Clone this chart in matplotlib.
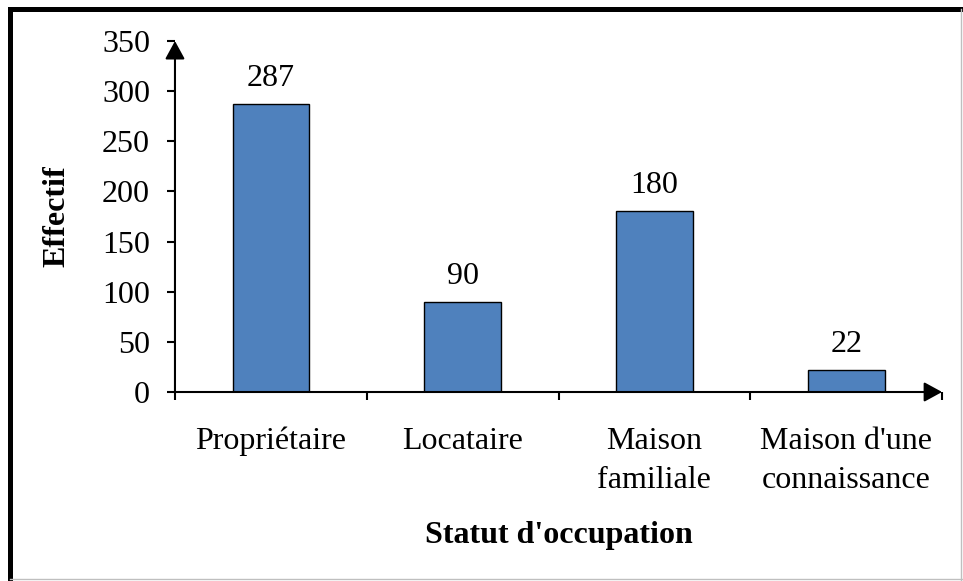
import matplotlib.pyplot as plt
from matplotlib.lines import Line2D

categories = ["Propriétaire", "Locataire", "Maison\nfamiliale", "Maison d'une\nconnaissance"]
effectifs = [287, 90, 180, 22]
y_ticks = [0, 50, 100, 150, 200, 250, 300, 350]

plt.rcParams["font.family"] = ["Liberation Serif", "DejaVu Serif"]
fs = 23

fig = plt.figure(figsize=(9.63, 5.81), dpi=100)
ax = fig.add_axes([0.1817, 0.3253, 0.7966, 0.6041])

x = range(len(categories))
bars = ax.bar(x, effectifs, width=0.4, color="#4F81BD", edgecolor="black", linewidth=1)
for b, v in zip(bars, effectifs):
    ax.annotate(str(v), (b.get_x() + b.get_width() / 2, v), xytext=(0, 8),
                textcoords="offset points", ha="center", va="bottom", fontsize=fs)

ax.set_xlim(-0.5, len(categories) - 0.5)
ax.set_ylim(0, 350)
ax.set_yticks(y_ticks)
ax.set_xticks(list(x))
ax.set_xticklabels(categories, linespacing=1.45)
ax.set_xticks([i - 0.5 for i in range(len(categories) + 1)], minor=True)
ax.tick_params(axis="x", which="major", length=0, pad=25, labelsize=fs)
ax.tick_params(axis="x", which="minor", length=6, width=1.5, direction="out")
ax.tick_params(axis="y", length=6, width=1.5, direction="out", labelsize=fs, pad=12)

for s in ax.spines.values():
    s.set_visible(False)

# axes avec flèches
arrow = dict(arrowstyle="-|>,head_length=0.55,head_width=0.3", color="black", lw=1.5,
             shrinkA=0, shrinkB=0, mutation_scale=20)
ax.annotate("", xy=(0, 1), xytext=(0, 0), xycoords="axes fraction", arrowprops=arrow)
ax.annotate("", xy=(1, 0), xytext=(0, 0), xycoords="axes fraction", arrowprops=arrow)

ax.set_ylabel("Effectif", fontweight="bold", fontsize=fs, labelpad=22)
ax.set_xlabel("Statut d'occupation", fontweight="bold", fontsize=fs, labelpad=19)

# cadre autour du graphique
fig.add_artist(Line2D([0.0109, 1.0], [0.9845, 0.9845], color="black", lw=3.6, transform=fig.transFigure))
fig.add_artist(Line2D([0.0109, 0.0109], [0.0, 0.9845], color="black", lw=3.6, transform=fig.transFigure))
fig.add_artist(Line2D([0.998, 0.998], [0.0, 0.9845], color="#BFBFBF", lw=1, transform=fig.transFigure))
fig.add_artist(Line2D([0.0109, 1.0], [0.003, 0.003], color="#BFBFBF", lw=1, transform=fig.transFigure))

fig.savefig("out.png", dpi=100)
